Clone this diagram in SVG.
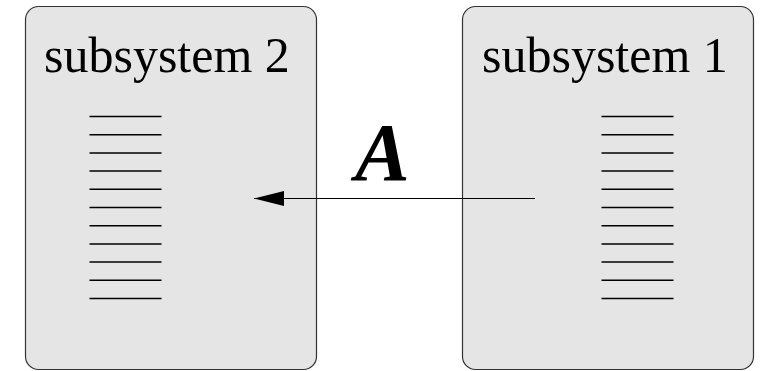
<svg xmlns="http://www.w3.org/2000/svg" width="762" height="371" viewBox="0 0 762 371">
  <defs>
    <style>
      .box { fill: #e5e5e5; stroke: #333; stroke-width: 1.2; }
      .title { font-family: "Liberation Serif", "Times New Roman", serif; font-size: 50px; fill: #000; }
      .rule { stroke: #000; stroke-width: 1.5; }
      .link { stroke: #000; stroke-width: 1; fill: none; }
      .label { font-family: "Liberation Serif", "Times New Roman", serif; font-size: 82px; font-weight: bold; font-style: italic; fill: #000; }
    </style>
    <marker id="head" markerUnits="userSpaceOnUse" markerWidth="30" markerHeight="16" viewBox="0 0 28 14" refX="28" refY="7" orient="auto">
      <path d="M0,0 L28,7 L0,14 Z" fill="#000"/>
    </marker>
    <g id="stack">
      <line class="rule" x1="0" y1="0" x2="72" y2="0"/>
      <line class="rule" x1="0" y1="18.2" x2="72" y2="18.2"/>
      <line class="rule" x1="0" y1="36.4" x2="72" y2="36.4"/>
      <line class="rule" x1="0" y1="54.6" x2="72" y2="54.6"/>
      <line class="rule" x1="0" y1="72.8" x2="72" y2="72.8"/>
      <line class="rule" x1="0" y1="91" x2="72" y2="91"/>
      <line class="rule" x1="0" y1="109.2" x2="72" y2="109.2"/>
      <line class="rule" x1="0" y1="127.4" x2="72" y2="127.4"/>
      <line class="rule" x1="0" y1="145.6" x2="72" y2="145.6"/>
      <line class="rule" x1="0" y1="163.8" x2="72" y2="163.8"/>
      <line class="rule" x1="0" y1="182" x2="72" y2="182"/>
    </g>
  </defs>

  <!-- left node -->
  <g id="subsystem2">
    <rect class="box" x="25.5" y="6.5" width="291" height="363" rx="13" ry="13"/>
    <text class="title" x="44" y="71.5">subsystem 2</text>
    <use href="#stack" x="89.5" y="116.5"/>
  </g>

  <!-- right node -->
  <g id="subsystem1">
    <rect class="box" x="462.5" y="6.5" width="291" height="363" rx="13" ry="13"/>
    <text class="title" x="482" y="71.5">subsystem 1</text>
    <use href="#stack" x="601.5" y="116.5"/>
  </g>

  <!-- connectors -->
  <g id="connectors">
    <line class="link" x1="535" y1="198.5" x2="254" y2="198.5" marker-end="url(#head)"/>
    <text class="label" x="355" y="179.5">A</text>
  </g>
</svg>
